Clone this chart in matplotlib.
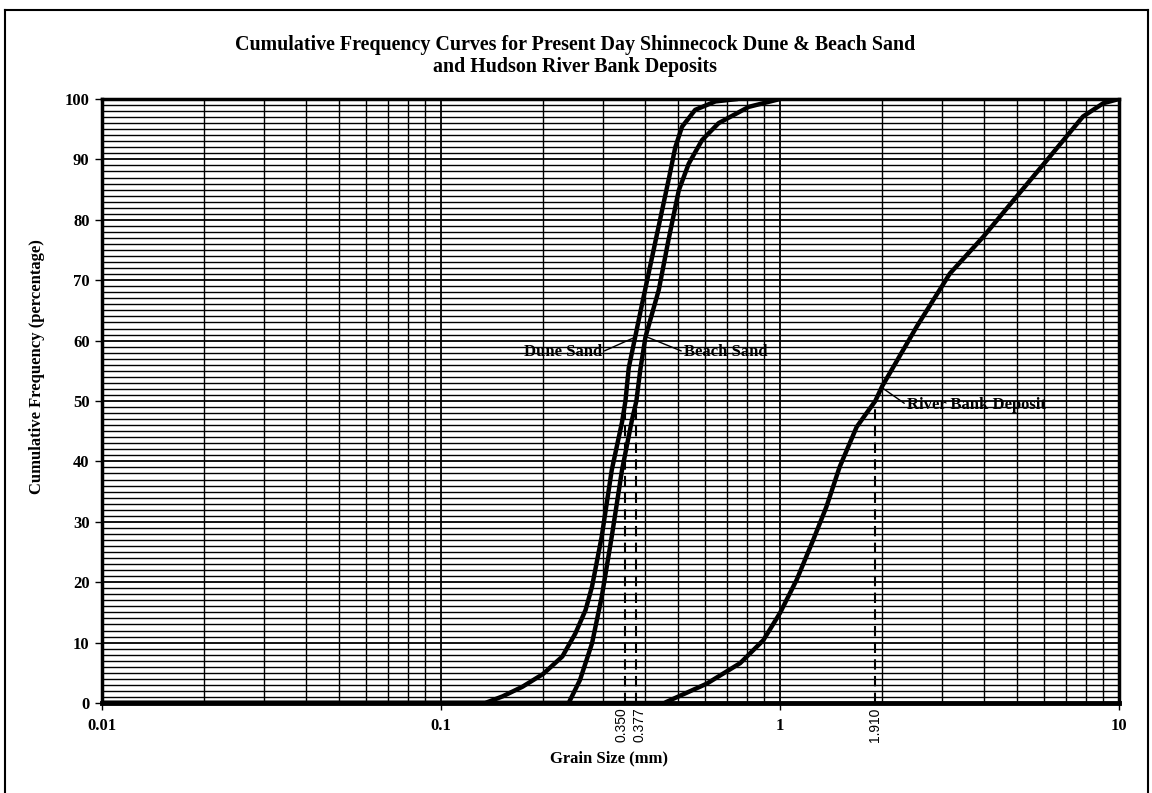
import matplotlib
matplotlib.use("Agg")
import matplotlib.pyplot as plt
from matplotlib.lines import Line2D
from matplotlib.ticker import LogLocator, MultipleLocator, NullFormatter

# данные
dune_size = [0.01, 0.135, 0.152, 0.174, 0.200, 0.228, 0.249, 0.267, 0.279, 0.298, 0.319,
             0.342, 0.350, 0.358, 0.392, 0.429, 0.470, 0.491, 0.514, 0.562, 0.645, 0.75]
dune_pct = [0, 0, 1.1, 2.7, 4.8, 7.7, 11.5, 15.4, 19.3, 27.6, 38.6,
            46.5, 50, 55.5, 66.1, 76.4, 86.8, 92.0, 95.4, 98.2, 99.6, 100]

beach_size = [0.01, 0.238, 0.257, 0.279, 0.298, 0.319, 0.342, 0.366, 0.377, 0.387,
              0.401, 0.439, 0.469, 0.503, 0.538, 0.589, 0.659, 0.809, 1.0]
beach_pct = [0, 0, 3.8, 9.9, 17.6, 27.6, 38.6, 46.9, 50, 55.1,
             60.6, 68.4, 76.7, 84.9, 89.3, 93.2, 96.0, 98.7, 100]

river_size = [0.01, 0.455, 0.608, 0.763, 0.893, 1.0, 1.12, 1.253, 1.371, 1.50, 1.683,
              1.91, 2.0, 2.53, 3.17, 3.98, 4.98, 6.24, 7.83, 8.99, 10]
river_pct = [0, 0, 3.2, 6.6, 10.4, 14.9, 20.4, 27, 32.5, 39.1, 45.7,
             50, 52.4, 62.3, 71.1, 77.2, 83.8, 90.4, 97.1, 99.3, 100]

# медианы (50 %)
median_sizes = [0.350, 0.377, 1.910]
median_labels = ["0.350", "0.377", "1.910"]
median_shift = [-2.5, 2.5, 0]

x_ticks = [0.01, 0.1, 1, 10]
x_tick_labels = ["0.01", "0.1", "1", "10"]
y_ticks = list(range(0, 101, 10))

serif = "Liberation Serif"

fig = plt.figure(figsize=(11.52, 7.93), dpi=100)
ax = fig.add_axes([102 / 1152, 1 - 703 / 793, (1119 - 102) / 1152, (703 - 99) / 793])

# сетка
ax.set_xscale("log")
ax.set_xlim(0.01, 10)
ax.set_ylim(0, 100)
ax.xaxis.set_major_locator(LogLocator(base=10))
ax.xaxis.set_minor_locator(LogLocator(base=10, subs=range(2, 10)))
ax.xaxis.set_minor_formatter(NullFormatter())
ax.yaxis.set_major_locator(MultipleLocator(10))
ax.yaxis.set_minor_locator(MultipleLocator(1))
ax.grid(which="major", color="black", linewidth=1.3)
ax.grid(which="minor", color="black", linewidth=1.0)
ax.set_axisbelow(True)

# кривые
for xs, ys in [(dune_size, dune_pct), (beach_size, beach_pct), (river_size, river_pct)]:
    ax.plot(xs, ys, color="black", linewidth=3.2, solid_capstyle="round",
            solid_joinstyle="round", zorder=3)

# пунктир на 50 %
for m in median_sizes:
    ax.plot([m, m], [0, 50], color="black", linewidth=1.5, dashes=(5, 3), zorder=3)
for m, lab, dx in zip(median_sizes, median_labels, median_shift):
    ax.annotate(lab, xy=(m, 0), xycoords=ax.get_xaxis_transform(),
                xytext=(dx, -3), textcoords="offset points", rotation=90,
                ha="center", va="top", fontsize=10, family="Liberation Sans")

# подписи кривых
arrow = dict(arrowstyle="-", color="black", linewidth=1, shrinkA=0, shrinkB=0)
ax.annotate("Dune Sand", xy=(0.368, 60.4), xytext=(0.298, 58.1), ha="right", va="center",
            fontsize=12, fontweight="bold", family=serif,
            arrowprops=dict(arrow, relpos=(1, 0.5)), zorder=4)
ax.annotate("Beach Sand", xy=(0.405, 60.6), xytext=(0.521, 58.1), ha="left", va="center",
            fontsize=12, fontweight="bold", family=serif,
            arrowprops=dict(arrow, relpos=(0, 0.5)), zorder=4)
ax.annotate("River Bank Deposit", xy=(2.0, 52.2), xytext=(2.37, 49.3), ha="left", va="center",
            fontsize=12, fontweight="bold", family=serif,
            arrowprops=dict(arrow, relpos=(0, 0.5)), zorder=4)

# оси
ax.set_xticks(x_ticks)
ax.set_xticklabels(x_tick_labels)
ax.set_yticks(y_ticks)
for lab in ax.get_xticklabels() + ax.get_yticklabels():
    lab.set_family(serif)
    lab.set_fontweight("bold")
    lab.set_fontsize(12)
ax.tick_params(which="major", direction="out", length=5, width=1, color="black")
ax.tick_params(axis="x", which="major", pad=6)
ax.tick_params(axis="y", which="major", pad=4)
ax.tick_params(which="minor", length=0)
for side in ["left", "bottom", "top", "right"]:
    ax.spines[side].set_linewidth(2.5)
ax.spines["bottom"].set_linewidth(3.5)

fig.text(609 / 1152, 1 - 758 / 793, "Grain Size (mm)", ha="center", va="center",
         fontsize=12, fontweight="bold", family=serif)
fig.text(37 / 1152, 1 - 367 / 793, "Cumulative Frequency (percentage)", ha="center",
         va="center", rotation=90, fontsize=12, fontweight="bold", family=serif)
fig.text(575 / 1152, 1 - 56 / 793,
         "Cumulative Frequency Curves for Present Day Shinnecock Dune & Beach Sand\n"
         "and Hudson River Bank Deposits",
         ha="center", va="center", fontsize=14.4, fontweight="bold", family=serif,
         linespacing=1.1)

# рамка вокруг рисунка
fig.add_artist(Line2D([5 / 1152, 5 / 1152], [0, 1 - 10 / 793], color="black", linewidth=1.5))
fig.add_artist(Line2D([5 / 1152, 1148 / 1152], [1 - 10 / 793, 1 - 10 / 793], color="black", linewidth=1.5))
fig.add_artist(Line2D([1148 / 1152, 1148 / 1152], [0, 1 - 10 / 793], color="black", linewidth=1.5))

fig.savefig("out.png", dpi=100)
